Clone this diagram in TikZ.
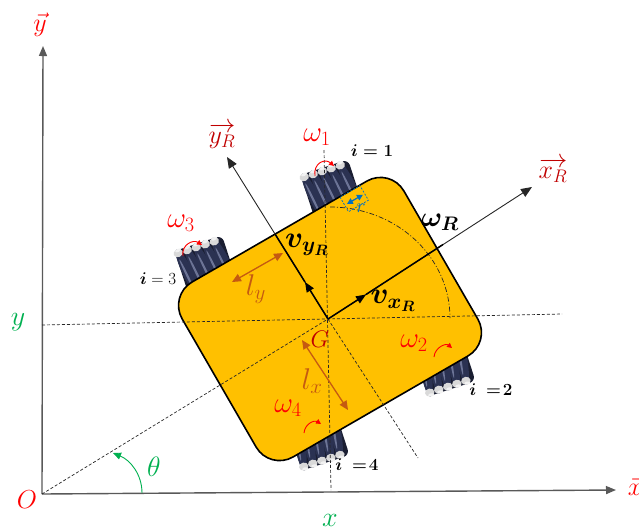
\RequirePackage{fix-cm}
\documentclass[tikz,border=0pt]{standalone}
\usepackage{amsmath}
\usetikzlibrary{arrows.meta}

\definecolor{bodygold}{HTML}{FFC000}
\definecolor{ochre}{HTML}{C55A11}
\definecolor{deepred}{HTML}{C00000}
\definecolor{anglegreen}{HTML}{00B050}
\definecolor{radblue}{HTML}{0070C0}
\definecolor{rollernavy}{HTML}{2B3252}
\definecolor{rollerlight}{HTML}{6C7496}

\newcommand{\fsz}[1]{\fontsize{#1}{#1}\selectfont}

\tikzset{
  axisarrow/.style={draw=black!65, line width=1.4pt, -{Triangle[length=10pt,width=8pt]}},
  frameaxis/.style={draw=black!85, line width=0.9pt, -{Triangle[length=11pt,width=9pt]}},
  velarrow/.style={draw=black, line width=1.5pt, -{Triangle[length=10pt,width=8pt]}},
  velline/.style={draw=black, line width=1.5pt},
  guide/.style={draw=black!85, line width=0.7pt, dash pattern=on 3pt off 2pt},
  arcguide/.style={draw=black!85, line width=0.7pt, dash pattern=on 5pt off 2pt on 1pt off 2pt},
  dimarrow/.style={draw=ochre, line width=1.3pt, {Triangle[length=9pt,width=8pt]}-{Triangle[length=9pt,width=8pt]}},
  spinarrow/.style={draw=red, line width=0.9pt, -{Triangle[length=5pt,width=5pt]}},
  anglearrow/.style={draw=anglegreen, line width=0.9pt, -{Triangle[length=8pt,width=7pt]}},
  chassis/.style={draw=black, line width=1.6pt, fill=bodygold, rounded corners=27pt,
    minimum width=256pt, minimum height=202pt, rotate=30, inner sep=0pt},
  lbl/.style={inner sep=0pt},
}

% mecanum wheel: centre x, centre y, side (-1 top row, 1 bottom row)
\newcommand{\mecwheel}[3]{%
  \begin{scope}[shift={(#1,#2)}, rotate=18, yscale=#3]
    \fill[rollernavy!60!black, rounded corners=6pt] (-25,-25) rectangle (25,25);
    \foreach \a in {-19,-9.5,0,9.5,19}{
      \begin{scope}[rotate around={-8:(\a,0)}]
        \fill[rollernavy] (\a,0) ellipse (5.2 and 26);
        \fill[rollerlight] (\a-1.8,-2) ellipse (1.1 and 18);
        \fill[gray!30] (\a,22) ellipse (4.8 and 4);
        \fill[white!90!gray] (\a+1,24.5) ellipse (3 and 1.6);
      \end{scope}
    }
  \end{scope}}

\begin{document}
\begin{tikzpicture}[x=1pt,y=-1pt]
\useasboundingbox (0,0) rectangle (639,531);

% reference points
\coordinate (O) at (42,494);
\coordinate (Ytip) at (43,46);
\coordinate (Xtip) at (616,490);
\coordinate (G) at (328,319);
\coordinate (hL) at (42,325);
\coordinate (hR) at (562,314);
\coordinate (vT) at (324,150);
\coordinate (vB) at (331,490);
\coordinate (yRneg) at (418,458);
\coordinate (arcTop) at (330,207);
\coordinate (xRmid) at (366,294.5);
\coordinate (xRedge) at (443,244.5);
\coordinate (xRtip) at (532,187);
\coordinate (yRmid) at (305,282);
\coordinate (yRedge) at (275,234);
\coordinate (yRtip) at (227,157);
\coordinate (lyA) at (232,282);
\coordinate (lyB) at (283,253);
\coordinate (lxA) at (302,340);
\coordinate (lxB) at (348,410);
\coordinate (thA) at (142,493);
\coordinate (thB) at (113,453);

% world axes
\draw[axisarrow] (O) -- (Ytip);
\draw[axisarrow] (O) -- (Xtip);

% wheels, partly hidden by the chassis
\mecwheel{332}{191}{-1}
\mecwheel{206}{267}{-1}
\mecwheel{444}{365}{1}
\mecwheel{318}{439}{1}

% chassis
\node[chassis] (body) at (330,319) {};

% construction lines
\draw[guide] (hL) -- (hR);
\draw[guide] (vT) -- (vB);
\draw[guide] (O) -- (G);
\draw[guide] (G) -- (yRneg);
\draw[arcguide] (arcTop) arc[start angle=-90, end angle=0, x radius=120, y radius=111];

% robot frame and body velocities
\draw[frameaxis] (G) -- (xRtip);
\draw[frameaxis] (G) -- (yRtip);
\draw[velarrow] (G) -- (xRmid);
\draw[velline] (xRmid) -- (xRedge);
\draw[velarrow] (G) -- (yRmid);
\draw[velline] (yRmid) -- (yRedge);

% half lengths
\draw[dimarrow] (lyA) -- (lyB);
\draw[dimarrow] (lxA) -- (lxB);

% wheel radius marker
\begin{scope}[shift={(340,197)}, rotate=30]
  \draw[radblue, line width=0.7pt, dash pattern=on 2pt off 1.5pt] (0,0) rectangle (23,17);
  \coordinate (rA) at (2.5,9.5);
  \coordinate (rB) at (21,9.5);
\end{scope}
\draw[radblue, line width=1.2pt, {Triangle[length=6pt,width=6pt]}-{Triangle[length=6pt,width=6pt]}] (rA) -- (rB);

% heading angle
\draw[anglearrow] (thA) .. controls (142,474) and (130,460) .. (thB);

% wheel spin arrows
\coordinate (s1a) at (315,176); \coordinate (s1b) at (334,166);
\draw[spinarrow] (s1a) .. controls (313,163) and (325,158) .. (s1b);
\coordinate (s3a) at (183,256); \coordinate (s3b) at (202,245);
\draw[spinarrow] (s3a) .. controls (181,245) and (193,239) .. (s3b);
\coordinate (s2a) at (434,357); \coordinate (s2b) at (452,348);
\draw[spinarrow] (s2a) .. controls (435,347) and (446,343) .. (s2b);
\coordinate (s4a) at (304,433); \coordinate (s4b) at (321,424);
\draw[spinarrow] (s4a) .. controls (305,423) and (315,420) .. (s4b);

% labels
\node[lbl, text=red] (lvy) at (40,25) {\fsz{26}$\vec{y}$};
\node[lbl, text=red] (lvx) at (635,486) {\fsz{26}$\vec{x}$};
\node[lbl, text=red] (lO) at (27,500) {\fsz{26}$O$};
\node[lbl, text=anglegreen] (ly) at (18,322) {\fsz{28}$y$};
\node[lbl, text=anglegreen] (lx) at (330,520) {\fsz{28}$x$};
\node[lbl, text=anglegreen] (lth) at (154,467) {\fsz{28}$\theta$};
\node[lbl, text=deepred] (lyR) at (222,136) {\fsz{26}$\overrightarrow{y_R}$};
\node[lbl, text=deepred] (lxR) at (553,170) {\fsz{26}$\overrightarrow{x_R}$};
\node[lbl, text=deepred] (lG) at (320,339) {\fsz{24}$G$};
\node[lbl, text=red] (lw1) at (317,137) {\fsz{29}$\omega_1$};
\node[lbl, text=red] (lw2) at (414,343) {\fsz{29}$\omega_2$};
\node[lbl, text=red] (lw3) at (181,223) {\fsz{29}$\omega_3$};
\node[lbl, text=red] (lw4) at (288,408) {\fsz{29}$\omega_4$};
\node[lbl] (li1) at (372,151) {\fsz{17}$\boldsymbol{i=1}$};
\node[lbl] (li2) at (491,390) {\fsz{17}$\boldsymbol{i}\ \boldsymbol{=}\!\mathbf{2}$};
\node[lbl] (li3) at (158,279) {\fsz{17}$\boldsymbol{i}=3$};
\node[lbl] (li4) at (357,465) {\fsz{17}$\boldsymbol{i}\ \boldsymbol{=}\!\mathbf{4}$};
\node[lbl] (lvyR) at (307,245) {\fsz{30}$\boldsymbol{v_{y_R}}$};
\node[lbl] (lvxR) at (393,301) {\fsz{30}$\boldsymbol{v_{x_R}}$};
\node[lbl] (lwR) at (440,222) {\fsz{28}$\boldsymbol{\omega_R}$};
\node[lbl, text=ochre] (lly) at (256,289) {\fsz{30}$l_y$};
\node[lbl, text=ochre] (llx) at (312,381) {\fsz{30}$l_x$};
\node[lbl, text=radblue] (lr) at (361,208) {\fsz{20}$r$};
\end{tikzpicture}
\end{document}
